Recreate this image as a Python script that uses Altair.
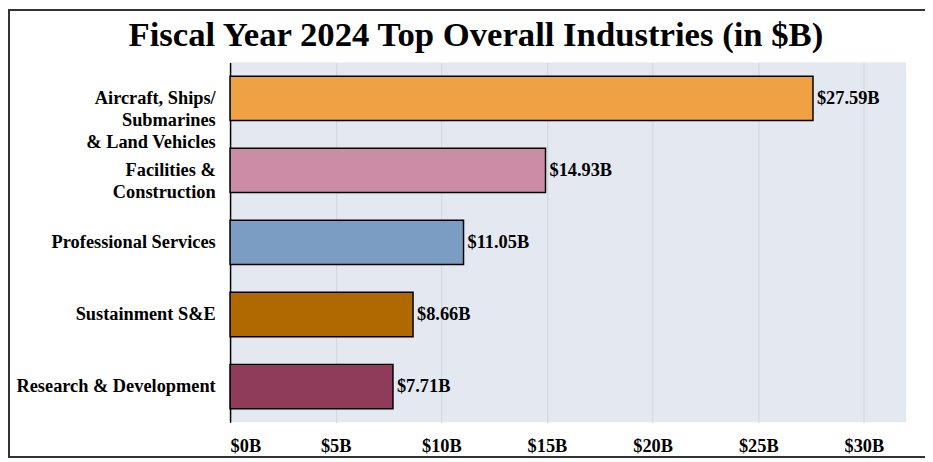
import altair as alt
import pandas as pd

categories = [
    "Aircraft, Ships/|Submarines|& Land Vehicles",
    "Facilities &|Construction",
    "Professional Services",
    "Sustainment S&E",
    "Research & Development",
]
values = [27.59, 14.93, 11.05, 8.66, 7.71]
colors = ["#F0A144", "#CC8CA6", "#7B9DC3", "#B06800", "#8F3C5B"]
x_ticks = [0, 5, 10, 15, 20, 25, 30]

df = pd.DataFrame({"category": categories, "value": values, "color": colors})

FONT = "Liberation Serif"

y_enc = alt.Y(
    "category:N",
    sort=categories,
    scale=alt.Scale(paddingInner=0.385, paddingOuter=0.19),
    axis=alt.Axis(
        title=None,
        labelExpr="split(datum.label, '|')",
        labelFont=FONT,
        labelFontSize=18.5,
        labelFontWeight="bold",
        labelColor="#000000",
        labelLineHeight=22,
        labelPadding=15,
        labelLimit=300,
        ticks=False,
        domain=True,
        domainColor="#000000",
        domainWidth=1.5,
        grid=False,
    ),
)

x_enc = alt.X(
    "value:Q",
    scale=alt.Scale(domain=[0, 32], nice=False),
    axis=alt.Axis(
        title=None,
        values=x_ticks,
        labelExpr="'$' + datum.value + 'B'",
        labelFont=FONT,
        labelFontSize=18.5,
        labelFontWeight="bold",
        labelColor="#000000",
        labelPadding=14,
        ticks=False,
        domain=False,
        grid=True,
        gridColor="#CFD5DE",
        gridWidth=1,
    ),
)

bars = alt.Chart(df).mark_bar(stroke="#000000", strokeWidth=1.5).encode(
    y=y_enc,
    x=x_enc,
    color=alt.Color("color:N", scale=None),
)

text = (
    alt.Chart(df)
    .transform_calculate(label="'$' + format(datum.value, '.2f') + 'B'")
    .mark_text(
        align="left",
        baseline="middle",
        dx=4,
        font=FONT,
        fontSize=18.5,
        fontWeight="bold",
        color="#000000",
    )
    .encode(y=alt.Y("category:N", sort=categories), x="value:Q", text="label:N")
)

frame = (
    alt.Chart(alt.Data(values=[{}]))
    .mark_rect(fillOpacity=0, stroke="#333333", strokeWidth=2)
    .encode(
        x=alt.value(-223),
        x2=alt.value(708),
        y=alt.value(-53),
        y2=alt.value(398),
    )
)

chart = (
    alt.layer(bars, text, frame)
    .properties(
        width=682,
        height=363,
        autosize=alt.AutoSizeParams(type="none"),
        padding={"left": 224, "top": 53, "right": 19, "bottom": 38},
        background="#FFFFFF",
        title=alt.Title(
            "Fiscal Year 2024 Top Overall Industries (in $B)",
            font=FONT,
            fontSize=35,
            fontWeight="bold",
            color="#000000",
            anchor="middle",
            dx=-93,
            offset=-44,
        ),
    )
    .configure_view(fill="#E4E8F0", stroke=None)
)

chart.save("out.html", embed_options={"renderer": "svg", "actions": False})
